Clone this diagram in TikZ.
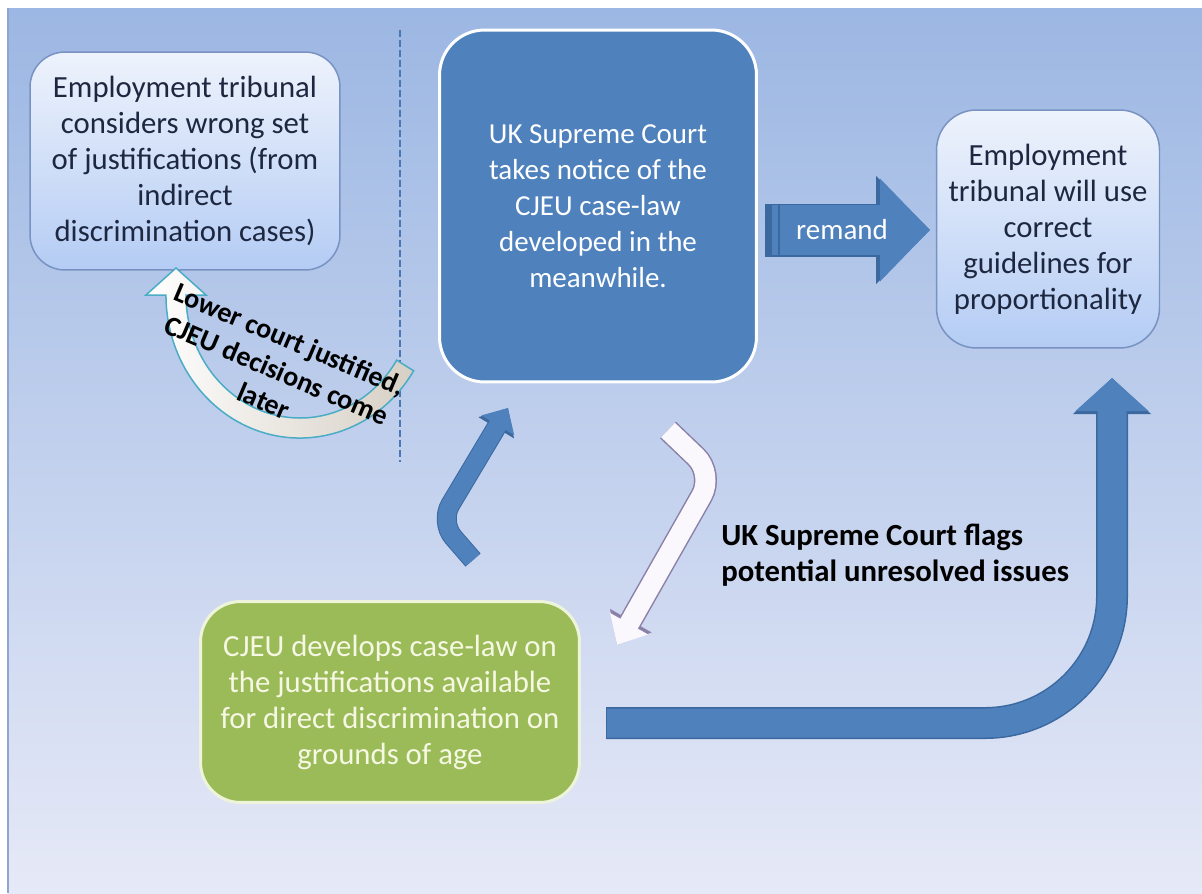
\documentclass[tikz,border=0pt]{standalone}
\usepackage{fontspec}
\setmainfont{Carlito}
\usepackage{tikz}
\usetikzlibrary{arrows.meta}
\usetikzlibrary{positioning}

\definecolor{bgtop}{HTML}{9CB7E3}
\definecolor{bgmid}{HTML}{C4D3EF}
\definecolor{bgbot}{HTML}{E6E9F7}
\definecolor{bgedge}{HTML}{8EA6CF}
\definecolor{paletop}{HTML}{EEF3FC}
\definecolor{palebot}{HTML}{B4CCF4}
\definecolor{paleline}{HTML}{7893C2}
\definecolor{courtblue}{HTML}{4F81BD}
\definecolor{courtdark}{HTML}{3B689F}
\definecolor{cjeugreen}{HTML}{9BBB59}
\definecolor{cjeuline}{HTML}{EEF4DA}
\definecolor{cjeutext}{HTML}{F6F8E4}
\definecolor{flagline}{HTML}{8A80A8}
\definecolor{flagfill}{HTML}{FBF8FD}
\definecolor{tealline}{HTML}{4BACC6}
\definecolor{beige}{HTML}{D6CFC4}
\definecolor{dashblue}{HTML}{4A78B6}
\definecolor{inktext}{HTML}{1E2740}

\tikzset{
  txt/.style={font=\fontsize{17.5}{20.5}\selectfont, align=center, inner sep=0pt},
  smalltxt/.style={txt, font=\fontsize{16.5}{20.5}\selectfont},
  boldtxt/.style={txt, font=\fontsize{17.5}{20.5}\selectfont\bfseries},
  palebox/.style={txt, draw=paleline, line width=0.03cm, top color=paletop,
    bottom color=palebot, rounded corners=0.7cm, text=inktext},
  courtbox/.style={smalltxt, draw=white, line width=0.06cm, fill=courtblue,
    rounded corners=0.9cm, text=white},
  cjeubox/.style={txt, draw=cjeuline, line width=0.06cm, fill=cjeugreen,
    rounded corners=0.8cm, text=cjeutext},
}

\begin{document}
\begin{tikzpicture}[x=0.02cm, y=-0.02cm]
\useasboundingbox (0,0) rectangle (1202,893);

% backdrop
\fill[top color=bgtop, middle color=bgmid, bottom color=bgbot] (8,8) rectangle (1202,893);
\draw[bgedge, line width=0.06cm] (8,8) -- (8,893);
\draw[dashblue, line width=0.05cm, dash pattern=on 0.14cm off 0.06cm] (400,30) -- (400,462);

% boxes
\node[palebox, minimum width=6.2cm, minimum height=4.36cm] (tribA) at (185,161)
  {Employment tribunal\\considers wrong set\\of justifications (from\\indirect\\discrimination cases)};
\node[courtbox, minimum width=6.34cm, minimum height=7.04cm] (uksc) at (598,206)
  {UK Supreme Court\\takes notice of the\\CJEU case-law\\developed in the\\meanwhile.};
\node[palebox, minimum width=4.46cm, minimum height=4.76cm, rounded corners=0.8cm] (tribC) at (1048,229)
  {Employment\\tribunal will use\\correct\\guidelines for\\proportionality};
\node[cjeubox, minimum width=7.58cm, minimum height=4.02cm] (cjeu) at (390,702)
  {CJEU develops case-law on\\the justifications available\\for direct discrimination on\\grounds of age};

% remand
\coordinate (rmdA) at (765,230);
\coordinate (rmdB) at (930,230);
\draw[courtdark, line width=1.06cm, -{Triangle[width=2.1cm,length=1.08cm]}] (rmdA) -- (rmdB);
\draw[courtblue, line width=1.0cm, -{Triangle[width=2.0cm,length=1.0cm]}] (rmdA) -- (rmdB);
\fill[courtdark] (765,205) rectangle (772,255);
\draw[courtdark, line width=0.04cm] (779,205) -- (779,255);
\node[smalltxt, text=white] (rmdtxt) at (842,230) {remand};

% cjeu back to uksc
\coordinate (upA) at (473,560);
\coordinate (upB) at (440,522);
\coordinate (upC) at (508,408);
\draw[courtdark, line width=0.40cm, rounded corners=0.4cm, -{Triangle[width=0.80cm,length=0.46cm]}] (upA) -- (upB) -- (upC);
\draw[courtblue, line width=0.36cm, rounded corners=0.4cm, -{Triangle[width=0.74cm,length=0.40cm]}] (upA) -- (upB) -- (upC);

% uksc flags to cjeu
\coordinate (dnA) at (668,430);
\coordinate (dnB) at (714,474);
\coordinate (dnC) at (617,645);
\draw[flagline, line width=0.46cm, rounded corners=0.5cm, -{Triangle[width=0.92cm,length=0.56cm]}] (dnA) -- (dnB) -- (dnC);
\draw[flagfill, line width=0.40cm, rounded corners=0.5cm, -{Triangle[width=0.84cm,length=0.49cm]}] (dnA) -- (dnB) -- (dnC);
\node[boldtxt, anchor=west, align=left] (flagtxt) at (721,555) {UK Supreme Court flags\\potential unresolved issues};

% cjeu to tribunal
\coordinate (ubA) at (607,723);
\coordinate (ubB) at (1112,723);
\coordinate (ubC) at (1112,378);
\draw[courtdark, line width=0.64cm, rounded corners=2.54cm, shorten <=-0.02cm, -{Triangle[width=1.52cm,length=0.72cm]}] (ubA) -- (ubB) -- (ubC);
\draw[courtblue, line width=0.58cm, rounded corners=2.54cm, -{Triangle[width=1.42cm,length=0.66cm]}] (ubA) -- (ubB) -- (ubC);

% lower court arrow
\filldraw[left color=white, right color=beige, draw=tealline, line width=0.03cm]
  (176,268) -- (206,295) -- (186,295)
  arc[start angle=180, end angle=32, x radius=114, y radius=123] -- (413.6,370.8)
  arc[start angle=32, end angle=180, x radius=134, y radius=143] -- (146,295) -- cycle;
\node[boldtxt, rotate=-23, font=\fontsize{16}{19}\selectfont\bfseries] (lowtxt) at (277,370)
  {Lower court justified,\\CJEU decisions come\\later};
\end{tikzpicture}
\end{document}
